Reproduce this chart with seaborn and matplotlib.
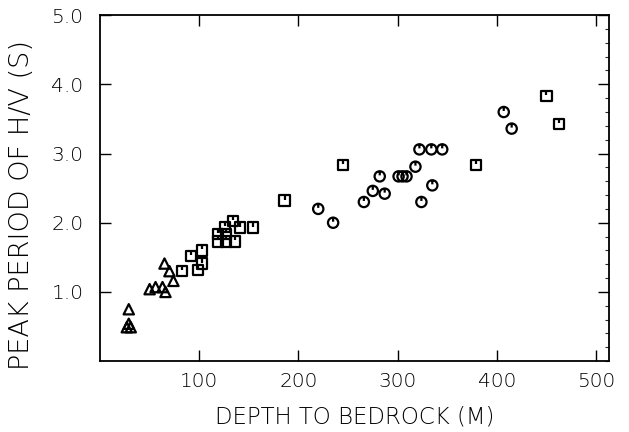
import numpy as np
import pandas as pd
import matplotlib
matplotlib.use("Agg")
import matplotlib.pyplot as plt
import seaborn as sns
from matplotlib.ticker import MultipleLocator
from matplotlib.path import Path

# Triangles (shallow sites)
tri_depth = [29, 29, 31, 27, 50, 56, 63, 66, 65, 70, 74]
tri_period = [0.75, 0.54, 0.49, 0.49, 1.04, 1.07, 1.07, 1.00, 1.41, 1.30, 1.16]

# Squares
sq_depth = [83, 92, 99, 103, 103, 119, 127, 119, 127, 136, 126, 134, 141, 154,
            186, 245, 379, 450, 463]
sq_period = [1.30, 1.52, 1.32, 1.41, 1.60, 1.84, 1.84, 1.73, 1.73, 1.73, 1.94,
             2.03, 1.93, 1.93, 2.32, 2.83, 2.83, 3.83, 3.43]

# Circles
circ_depth = [220, 235, 266, 275, 282, 287, 301, 305, 309, 318, 322, 334, 345,
              335, 324, 407, 415]
circ_period = [2.20, 2.00, 2.30, 2.46, 2.67, 2.42, 2.67, 2.67, 2.67, 2.81, 3.06,
               3.06, 3.06, 2.54, 2.30, 3.60, 3.36]

x_ticks = [100, 200, 300, 400, 500]
y_ticks = [1.0, 2.0, 3.0, 4.0, 5.0]

df = pd.concat([
    pd.DataFrame({"depth": tri_depth, "period": tri_period, "kind": "tri"}),
    pd.DataFrame({"depth": sq_depth, "period": sq_period, "kind": "sq"}),
    pd.DataFrame({"depth": circ_depth, "period": circ_period, "kind": "circ"}),
], ignore_index=True)

# plotter-style symbols with a small notch from the top edge
sq_verts = [(-1, -1), (1, -1), (1, 1), (-1, 1), (-1, -1), (0, 1), (0, 0.2)]
sq_codes = [Path.MOVETO, Path.LINETO, Path.LINETO, Path.LINETO, Path.CLOSEPOLY,
            Path.MOVETO, Path.LINETO]
square_notch = Path(sq_verts, sq_codes)
circ = Path.unit_circle()
circ_notch = Path(list(circ.vertices) + [(0, 1), (0, 0.2)],
                  list(circ.codes) + [Path.MOVETO, Path.LINETO])

sns.set_style("ticks")
plt.rcParams["font.family"] = ["DejaVu Sans"]
plt.rcParams["font.weight"] = "light"
plt.rcParams["axes.labelweight"] = "light"
plt.rcParams["text.color"] = "black"
plt.rcParams["axes.labelcolor"] = "black"

fig = plt.figure(figsize=(6.29, 4.32), dpi=100)
ax = fig.add_axes([0.159, 0.164, 0.809, 0.801])

markers = {"tri": "^", "sq": square_notch, "circ": circ_notch}
sizes = {"tri": 55, "sq": 55, "circ": 55}
for kind, m in markers.items():
    sub = df[df["kind"] == kind]
    sns.scatterplot(data=sub, x="depth", y="period", marker=m, s=sizes[kind],
                    facecolor="none", edgecolor="black", linewidth=1.6, ax=ax,
                    legend=False, zorder=3)

ax.set_xlim(0, 513)
ax.set_ylim(0, 5.0)
ax.set_xticks(x_ticks)
ax.set_xticklabels([str(t) for t in x_ticks])
ax.set_yticks(y_ticks)
ax.set_yticklabels([f"{t:.1f}" for t in y_ticks])
ax.yaxis.set_minor_locator(MultipleLocator(0.2))

ax.tick_params(axis="both", which="major", direction="in", length=8, width=1.0,
               top=True, right=True, labelsize=14.5, colors="black")
ax.tick_params(axis="x", pad=8)
ax.tick_params(axis="y", pad=12)
ax.tick_params(axis="y", which="minor", direction="in", length=3, width=0.8,
               left=False, right=True)

for s in ax.spines.values():
    s.set_linewidth(1.3)
    s.set_color("black")

ax.set_xlabel("DEPTH TO BEDROCK (M)", fontsize=16.5, labelpad=10)
ax.set_ylabel("PEAK PERIOD OF H/V (S)", fontsize=19.5)
ax.yaxis.set_label_coords(-0.13, 0.45)
ax.grid(False)

fig.savefig("out.png", dpi=100)
